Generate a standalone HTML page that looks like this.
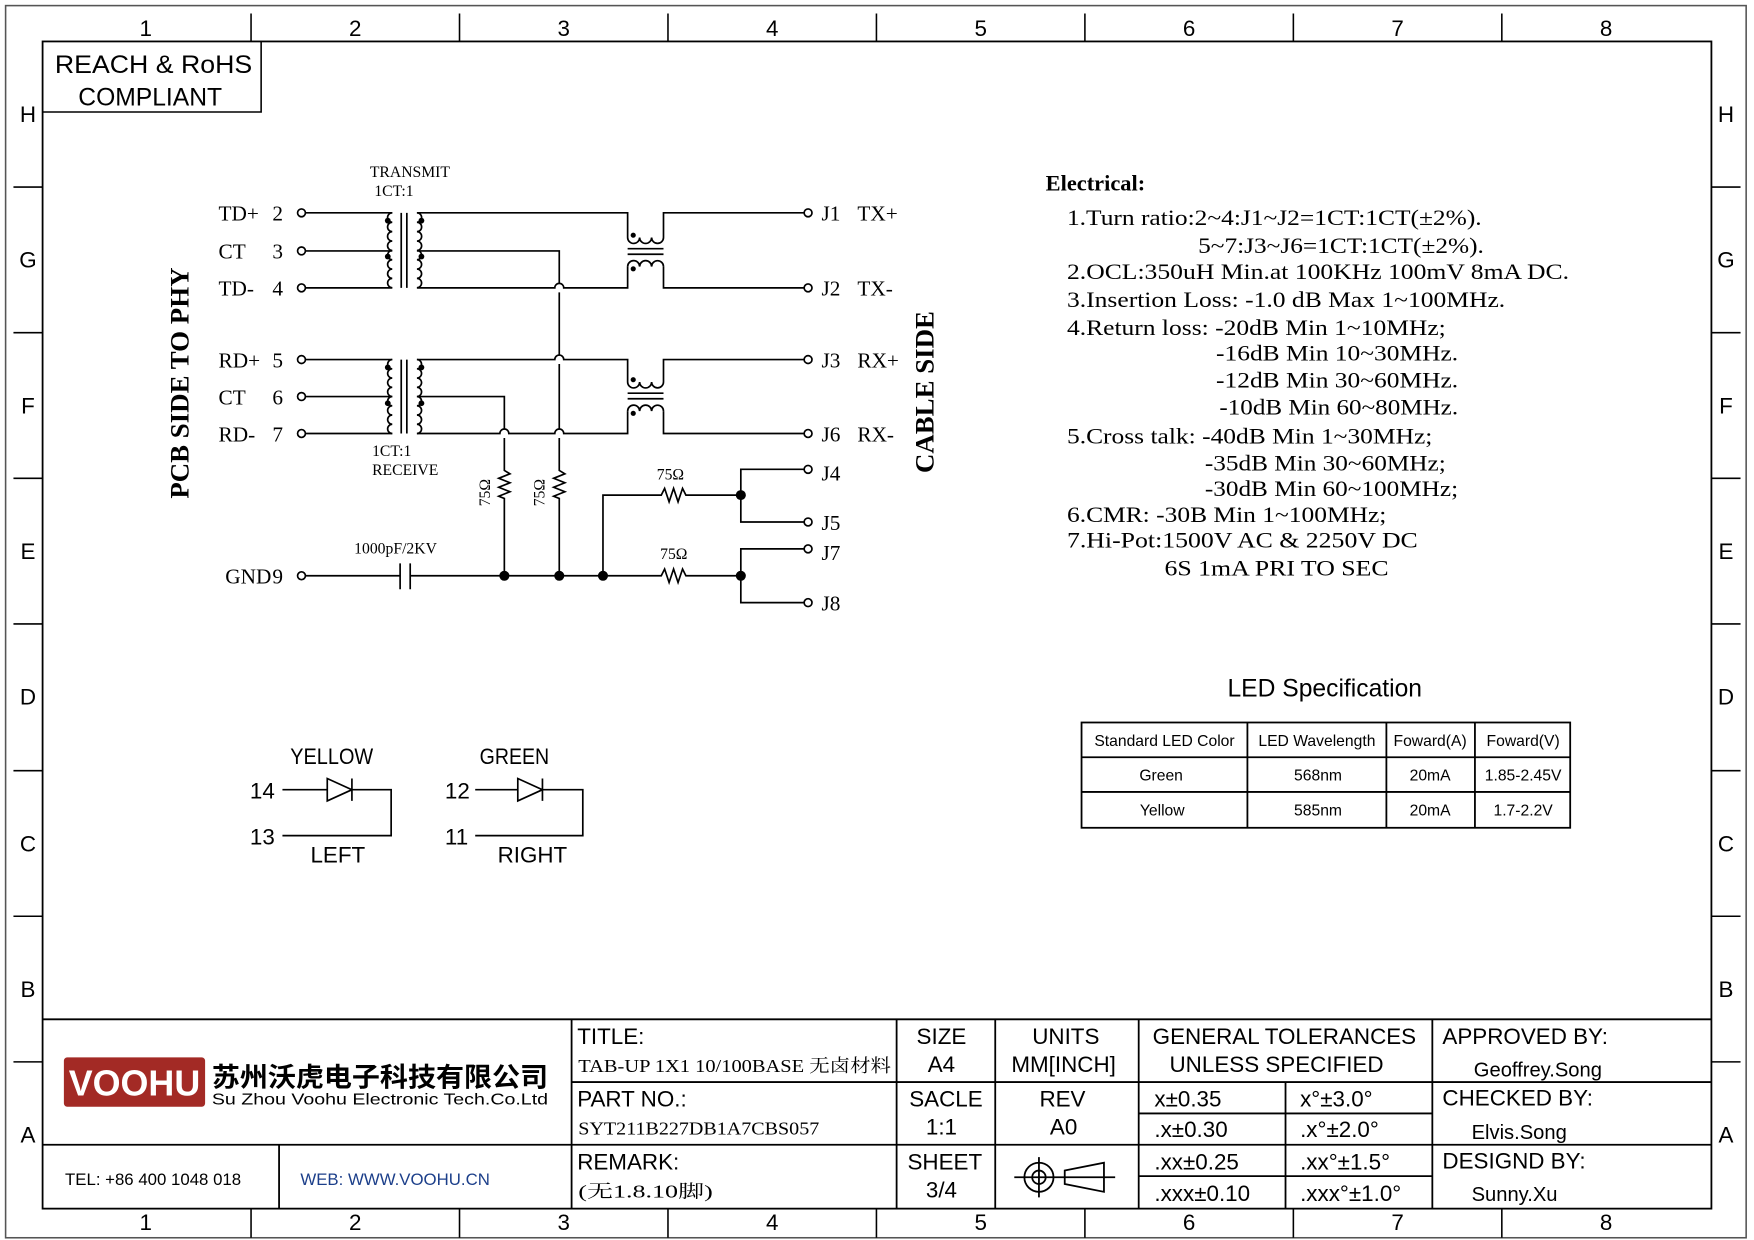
<!DOCTYPE html>
<html><head><meta charset="utf-8"><style>
html,body{margin:0;padding:0;background:#fff;}
svg{display:block;}
.s{font-family:"Liberation Serif","Noto Serif CJK SC",serif;}
.a{font-family:"Liberation Sans","Noto Sans CJK SC",sans-serif;}
</style></head><body>
<svg width="1754" height="1240" viewBox="0 0 1565 1107" preserveAspectRatio="none" xmlns="http://www.w3.org/2000/svg">
<g fill="none" stroke="#000" stroke-width="1.4">
<rect x="5" y="5" width="1553" height="1100" stroke="#555"/>
<rect x="38" y="37" width="1489" height="1042" stroke-width="1.6"/>
<path d="M224,12V37M410,12V37M596,12V37M782,12V37M968,12V37M1154,12V37M1340,12V37
M224,1079V1105M410,1079V1105M596,1079V1105M782,1079V1105M968,1079V1105M1154,1079V1105M1340,1079V1105
M12,167H38M12,297H38M12,427H38M12,557H38M12,688H38M12,818H38M12,948H38
M1527,167H1553M1527,297H1553M1527,427H1553M1527,557H1553M1527,688H1553M1527,818H1553M1527,948H1553"/>
<path d="M38,100H233V37"/>
</g>
<g class="a" font-size="20" text-anchor="middle">
<text x="130" y="32">1</text><text x="317" y="32">2</text><text x="503" y="32">3</text><text x="689" y="32">4</text><text x="875" y="32">5</text><text x="1061" y="32">6</text><text x="1247" y="32">7</text><text x="1433" y="32">8</text>
<text x="130" y="1098">1</text><text x="317" y="1098">2</text><text x="503" y="1098">3</text><text x="689" y="1098">4</text><text x="875" y="1098">5</text><text x="1061" y="1098">6</text><text x="1247" y="1098">7</text><text x="1433" y="1098">8</text>
<text x="25" y="109">H</text><text x="25" y="239">G</text><text x="25" y="369">F</text><text x="25" y="499">E</text><text x="25" y="629">D</text><text x="25" y="760">C</text><text x="25" y="890">B</text><text x="25" y="1020">A</text>
<text x="1540" y="109">H</text><text x="1540" y="239">G</text><text x="1540" y="369">F</text><text x="1540" y="499">E</text><text x="1540" y="629">D</text><text x="1540" y="760">C</text><text x="1540" y="890">B</text><text x="1540" y="1020">A</text>
<text x="137" y="65" font-size="22" textLength="176" lengthAdjust="spacingAndGlyphs">REACH &amp; RoHS</text><text x="134" y="94" font-size="22">COMPLIANT</text>
</g>

<g fill="none" stroke="#000" stroke-width="1.5">
<circle cx="269" cy="190" r="3.5"/><circle cx="269" cy="224" r="3.5"/><circle cx="269" cy="257" r="3.5"/>
<circle cx="269" cy="321" r="3.5"/><circle cx="269" cy="354" r="3.5"/><circle cx="269" cy="387" r="3.5"/>
<circle cx="269" cy="514" r="3.5"/>
<circle cx="721" cy="190" r="3.5"/><circle cx="721" cy="257" r="3.5"/><circle cx="721" cy="321" r="3.5"/><circle cx="721" cy="387" r="3.5"/>
<circle cx="721" cy="419" r="3.5"/><circle cx="721" cy="466" r="3.5"/><circle cx="721" cy="490" r="3.5"/><circle cx="721" cy="538" r="3.5"/>
<path d="M273,190H350M273,224H350M273,257H350"/>
<path d="M350,190a4.2,4.2 0 0 0 0,8.4a4.2,4.2 0 0 0 0,8.4a4.2,4.2 0 0 0 0,8.4a4.2,4.2 0 0 0 0,8.4a4.1,4.1 0 0 0 0,8.3a4.1,4.1 0 0 0 0,8.3a4.1,4.1 0 0 0 0,8.3a4.1,4.1 0 0 0 0,8.3"/>
<path d="M358,190V257M363,190V257M358,321V387M363,321V387"/>
<path d="M372,190a4.2,4.2 0 0 1 0,8.4a4.2,4.2 0 0 1 0,8.4a4.2,4.2 0 0 1 0,8.4a4.2,4.2 0 0 1 0,8.4a4.1,4.1 0 0 1 0,8.3a4.1,4.1 0 0 1 0,8.3a4.1,4.1 0 0 1 0,8.3a4.1,4.1 0 0 1 0,8.3"/>
<path d="M273,321H350M273,354H350M273,387H350"/>
<path d="M350,321a4.1,4.1 0 0 0 0,8.25a4.1,4.1 0 0 0 0,8.25a4.1,4.1 0 0 0 0,8.25a4.1,4.1 0 0 0 0,8.25a4.1,4.1 0 0 0 0,8.25a4.1,4.1 0 0 0 0,8.25a4.1,4.1 0 0 0 0,8.25a4.1,4.1 0 0 0 0,8.25"/>
<path d="M372,321a4.1,4.1 0 0 1 0,8.25a4.1,4.1 0 0 1 0,8.25a4.1,4.1 0 0 1 0,8.25a4.1,4.1 0 0 1 0,8.25a4.1,4.1 0 0 1 0,8.25a4.1,4.1 0 0 1 0,8.25a4.1,4.1 0 0 1 0,8.25a4.1,4.1 0 0 1 0,8.25"/>
<path d="M372,190H560V212M592,212V190H717"/>
<path d="M560,212a5.3,5.3 0 0 0 10.7,0a5.3,5.3 0 0 0 10.7,0a5.3,5.3 0 0 0 10.6,0"/>
<path d="M560,222H592M560,227H592M560,351H592M560,356H592"/>
<path d="M560,238a5.3,5.3 0 0 1 10.7,0a5.3,5.3 0 0 1 10.7,0a5.3,5.3 0 0 1 10.6,0"/>
<path d="M372,257H495a4,4 0 0 1 8,0H560V238M592,238V257H717"/>
<path d="M372,224H499V253M499,261V317M499,325V383M499,391V420l5,3l-10,4l10,4l-10,4l10,4l-10,4l5,2V514"/>
<path d="M372,321H495a4,4 0 0 1 8,0H560V341M592,341V321H717"/>
<path d="M560,341a5.3,5.3 0 0 0 10.7,0a5.3,5.3 0 0 0 10.7,0a5.3,5.3 0 0 0 10.6,0"/>
<path d="M560,367a5.3,5.3 0 0 1 10.7,0a5.3,5.3 0 0 1 10.7,0a5.3,5.3 0 0 1 10.6,0"/>
<path d="M372,387H446a4,4 0 0 1 8,0H495a4,4 0 0 1 8,0H560V367M592,367V387H717"/>
<path d="M372,354H450V383M450,391V420l5,3l-10,4l10,4l-10,4l10,4l-10,4l5,2V514"/>
<path d="M273,514H357M357,503V526M366,503V526M366,514H590l3,-6l4,12l4,-12l4,12l4,-12l3,6H661"/>
<path d="M538,514V442H590l3,-6l4,12l4,-12l4,12l4,-12l3,6H661"/>
<path d="M717,419H661V466H717M717,490H661V538H717"/>
<path d="M252,705H292M292,695V715L314,705ZM314,695V715M314,705H349V746H252"/>
<path d="M424,705H462M462,695V715L484,705ZM484,695V715M484,705H520V746H424"/>
</g>
<g fill="#000">
<circle cx="346" cy="197" r="2.6"/><circle cx="346" cy="229" r="2.6"/><circle cx="376" cy="197" r="2.6"/><circle cx="376" cy="229" r="2.6"/>
<circle cx="346" cy="328" r="2.6"/><circle cx="346" cy="360" r="2.6"/><circle cx="376" cy="328" r="2.6"/><circle cx="376" cy="360" r="2.6"/>
<circle cx="565" cy="210" r="2.3"/><circle cx="565" cy="240" r="2.3"/><circle cx="565" cy="339" r="2.3"/><circle cx="565" cy="369" r="2.3"/>
<circle cx="450" cy="514" r="4.5"/><circle cx="499" cy="514" r="4.5"/><circle cx="538" cy="514" r="4.5"/><circle cx="661" cy="514" r="4.5"/><circle cx="661" cy="442" r="4.5"/>
</g>
<g class="s" font-size="19">
<text x="195" y="197">TD+</text><text x="243" y="197">2</text>
<text x="195" y="231">CT</text><text x="243" y="231">3</text>
<text x="195" y="264">TD-</text><text x="243" y="264">4</text>
<text x="195" y="328">RD+</text><text x="243" y="328">5</text>
<text x="195" y="361">CT</text><text x="243" y="361">6</text>
<text x="195" y="394">RD-</text><text x="243" y="394">7</text>
<text x="201" y="521">GND</text><text x="243" y="521">9</text>
<text x="733" y="197">J1</text><text x="765" y="197">TX+</text>
<text x="733" y="264">J2</text><text x="765" y="264">TX-</text>
<text x="733" y="328">J3</text><text x="765" y="328">RX+</text>
<text x="733" y="394">J6</text><text x="765" y="394">RX-</text>
<text x="733" y="429">J4</text><text x="733" y="473">J5</text><text x="733" y="500">J7</text><text x="733" y="545">J8</text>
</g>
<g class="s" font-size="14">
<text x="330" y="158">TRANSMIT</text><text x="334" y="175">1CT:1</text>
<text x="332" y="407">1CT:1</text><text x="332" y="424">RECEIVE</text>
<text x="316" y="494">1000pF/2KV</text>
<text x="586" y="428">75Ω</text><text x="589" y="499">75Ω</text>
<text transform="translate(437,452) rotate(-90)">75Ω</text>
<text transform="translate(486,452) rotate(-90)">75Ω</text>
</g>
<g class="s" font-size="24" font-weight="bold" text-anchor="middle">
<text transform="translate(168,342) rotate(-90)">PCB SIDE TO PHY</text>
<text transform="translate(833,350) rotate(-90)">CABLE SIDE</text>
</g>
<g class="a" font-size="20">
<text x="259" y="682" textLength="74" lengthAdjust="spacingAndGlyphs">YELLOW</text><text x="428" y="682" textLength="62" lengthAdjust="spacingAndGlyphs">GREEN</text>
<text x="223" y="713">14</text><text x="223" y="754">13</text>
<text x="397" y="713">12</text><text x="397" y="754">11</text>
<text x="277" y="770">LEFT</text><text x="444" y="770" textLength="62" lengthAdjust="spacingAndGlyphs">RIGHT</text>
</g>
<g class="s" font-size="20" lengthAdjust="spacingAndGlyphs">
<text x="933" y="170" font-weight="bold">Electrical:</text>
<text x="952" y="201" textLength="370" lengthAdjust="spacingAndGlyphs">1.Turn ratio:2~4:J1~J2=1CT:1CT(±2%).</text>
<text x="1069" y="226" textLength="255" lengthAdjust="spacingAndGlyphs">5~7:J3~J6=1CT:1CT(±2%).</text>
<text x="952" y="249" textLength="448" lengthAdjust="spacingAndGlyphs">2.OCL:350uH Min.at 100KHz 100mV 8mA DC.</text>
<text x="952" y="274" textLength="391" lengthAdjust="spacingAndGlyphs">3.Insertion Loss: -1.0 dB Max 1~100MHz.</text>
<text x="952" y="299" textLength="338" lengthAdjust="spacingAndGlyphs">4.Return loss: -20dB Min 1~10MHz;</text>
<text x="1085" y="322" textLength="216" lengthAdjust="spacingAndGlyphs">-16dB Min 10~30MHz.</text>
<text x="1085" y="346" textLength="216" lengthAdjust="spacingAndGlyphs">-12dB Min 30~60MHz.</text>
<text x="1088" y="370" textLength="213" lengthAdjust="spacingAndGlyphs">-10dB Min 60~80MHz.</text>
<text x="952" y="396" textLength="326" lengthAdjust="spacingAndGlyphs">5.Cross talk: -40dB Min 1~30MHz;</text>
<text x="1075" y="420" textLength="215" lengthAdjust="spacingAndGlyphs">-35dB Min 30~60MHz;</text>
<text x="1075" y="443" textLength="226" lengthAdjust="spacingAndGlyphs">-30dB Min 60~100MHz;</text>
<text x="952" y="466" textLength="285" lengthAdjust="spacingAndGlyphs">6.CMR: -30B Min 1~100MHz;</text>
<text x="952" y="489" textLength="313" lengthAdjust="spacingAndGlyphs">7.Hi-Pot:1500V AC &amp; 2250V DC</text>
<text x="1039" y="514" textLength="200" lengthAdjust="spacingAndGlyphs">6S 1mA PRI TO SEC</text>
</g>
<text class="a" x="1182" y="622" font-size="22" text-anchor="middle">LED Specification</text>
<g fill="none" stroke="#000" stroke-width="1.6">
<rect x="965" y="645" width="436" height="94"/>
<path d="M965,676H1401M965,707H1401M1113,645V739M1237,645V739M1316,645V739"/>
</g>
<g class="a" font-size="14" text-anchor="middle">
<text x="1039" y="666">Standard LED Color</text><text x="1175" y="666">LED Wavelength</text><text x="1276" y="666">Foward(A)</text><text x="1359" y="666">Foward(V)</text>
<text x="1036" y="697">Green</text><text x="1176" y="697">568nm</text><text x="1276" y="697">20mA</text><text x="1359" y="697">1.85-2.45V</text>
<text x="1037" y="728">Yellow</text><text x="1176" y="728">585nm</text><text x="1276" y="728">20mA</text><text x="1359" y="728">1.7-2.2V</text>
</g>
<g fill="none" stroke="#000" stroke-width="1.6">
<path d="M38,910H1527M510,966H1527M38,1022H1527M1016,994H1278M1016,1050H1278"/>
<path d="M510,910V1079M800,910V1079M888,910V1079M1016,910V1079M1278,910V1079M1147,966V1079M249,1022V1079"/>
<circle cx="927" cy="1051" r="13"/><circle cx="927" cy="1051" r="6"/>
<path d="M905,1051H995M927,1033V1069M950,1045L985,1038V1064L950,1057Z"/>
</g>
<rect x="57" y="944" width="126" height="44" rx="3" fill="#a32a25"/>
<text class="a" x="120" y="978" font-size="32" font-weight="bold" fill="#fff" text-anchor="middle">VOOHU</text>
<text class="a" x="189" y="970" font-size="24" font-weight="bold" textLength="300" lengthAdjust="spacingAndGlyphs">苏州沃虎电子科技有限公司</text>
<text class="a" x="189" y="986" font-size="14" textLength="300" lengthAdjust="spacingAndGlyphs">Su Zhou Voohu Electronic Tech.Co.Ltd</text>
<text class="a" x="58" y="1058" font-size="15">TEL: +86 400 1048 018</text>
<text class="a" x="268" y="1058" font-size="15" fill="#1c3f8a">WEB: WWW.VOOHU.CN</text>
<g class="a" font-size="20">
<text x="515" y="932">TITLE:</text>
<text x="515" y="988">PART NO.:</text>
<text x="515" y="1044">REMARK:</text>
<g text-anchor="middle">
<text x="840" y="932">SIZE</text><text x="840" y="957">A4</text>
<text x="951" y="932">UNITS</text><text x="949" y="957">MM[INCH]</text>
<text x="844" y="988">SACLE</text><text x="840" y="1013">1:1</text>
<text x="948" y="988">REV</text><text x="949" y="1013">A0</text>
<text x="843" y="1044">SHEET</text><text x="840" y="1069">3/4</text>
<text x="1146" y="932">GENERAL TOLERANCES</text><text x="1139" y="957">UNLESS SPECIFIED</text>
</g>
<text x="1030" y="988">x±0.35</text><text x="1160" y="988">x°±3.0°</text>
<text x="1030" y="1015">.x±0.30</text><text x="1160" y="1015">.x°±2.0°</text>
<text x="1030" y="1044">.xx±0.25</text><text x="1160" y="1044">.xx°±1.5°</text>
<text x="1030" y="1072">.xxx±0.10</text><text x="1160" y="1072">.xxx°±1.0°</text>
<text x="1287" y="932">APPROVED BY:</text>
<text x="1287" y="987">CHECKED BY:</text>
<text x="1287" y="1043">DESIGND BY:</text>
<text x="1315" y="961" font-size="18">Geoffrey.Song</text>
<text x="1313" y="1017" font-size="18">Elvis.Song</text>
<text x="1313" y="1072" font-size="18">Sunny.Xu</text>
</g>
<g class="s" font-size="16">
<text x="516" y="957" textLength="279" lengthAdjust="spacingAndGlyphs">TAB-UP 1X1 10/100BASE 无卤材料</text>
<text x="516" y="1013" textLength="215" lengthAdjust="spacingAndGlyphs">SYT211B227DB1A7CBS057</text>
<text x="516" y="1069" textLength="120" lengthAdjust="spacingAndGlyphs">(无1.8.10脚)</text>
</g>
</svg>
</body></html>
